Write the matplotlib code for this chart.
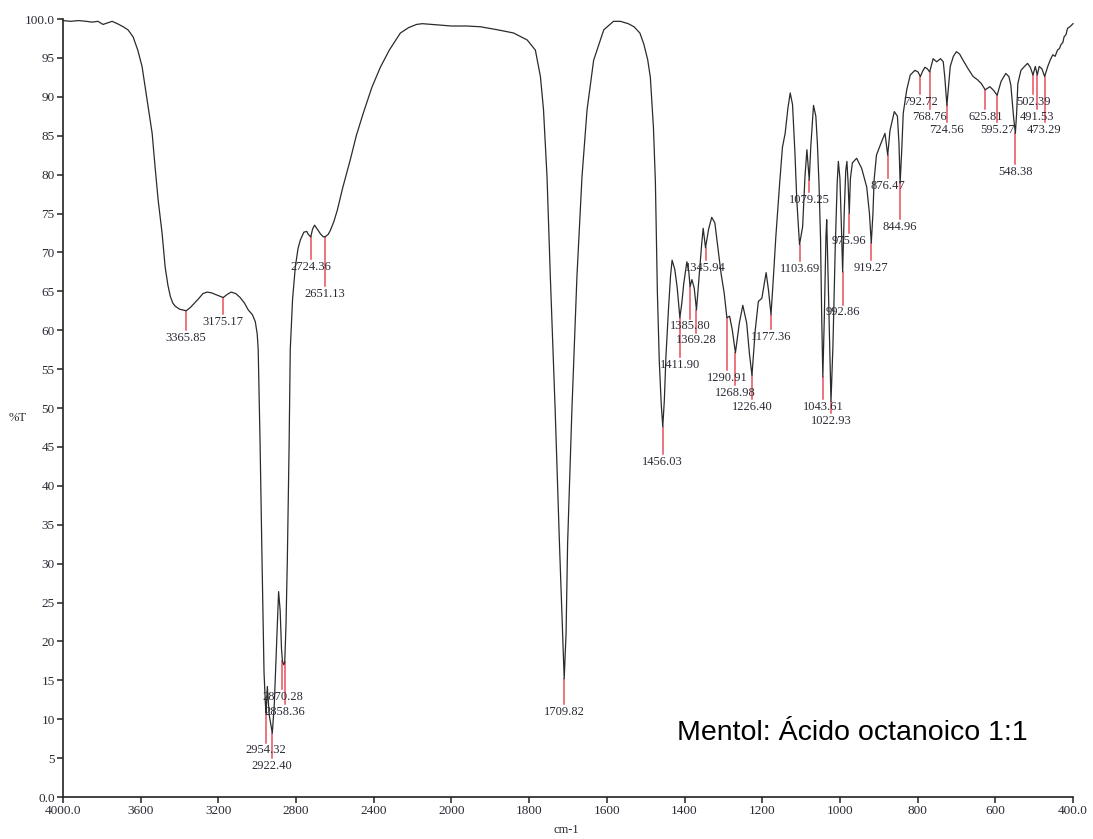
"""IR spectrum: Mentol / Acido octanoico 1:1 (recreated)."""
import matplotlib
matplotlib.use("Agg")
import matplotlib.pyplot as plt
import numpy as np

# spectrum (wavenumber cm-1, %T)
wavenumber = [
    4000, 3960, 3920, 3880, 3850, 3820, 3794, 3770, 3747, 3720, 3690, 3665, 3639, 3615, 3593,
    3567, 3541, 3526, 3510, 3490, 3474, 3460, 3448, 3435, 3423, 3400, 3366, 3345, 3330, 3300,
    3280, 3258, 3235, 3216, 3195, 3175, 3155, 3134, 3110, 3088, 3066, 3046, 3025, 3010, 3000,
    2995, 2985, 2975, 2965, 2958, 2954.3, 2948, 2938, 2922.4, 2912, 2900, 2890, 2882, 2875,
    2870.3, 2864, 2858.4, 2852, 2845, 2836, 2830, 2818, 2804, 2790, 2778, 2760, 2745, 2737,
    2724.4, 2715, 2705, 2691, 2675, 2660, 2651, 2635, 2624, 2605, 2588, 2560, 2521, 2490, 2454,
    2410, 2366, 2320, 2263, 2220, 2180, 2150, 2100, 2050, 2000, 1960, 1925, 1880, 1840, 1805,
    1784, 1771, 1763, 1754, 1745.5, 1733, 1722, 1713, 1709.8, 1705, 1701, 1690, 1677, 1664,
    1651, 1634, 1608, 1583, 1565, 1545, 1530, 1515, 1505, 1495, 1488, 1480, 1475, 1470, 1465,
    1460, 1456, 1452, 1448, 1441, 1436, 1432, 1425, 1419, 1412, 1407, 1402, 1394, 1389, 1385.8,
    1381, 1375, 1369.3, 1362, 1356, 1352, 1346, 1338, 1330, 1322, 1315, 1306, 1298, 1291, 1284,
    1277, 1269, 1259, 1250, 1240, 1233, 1226.4, 1218, 1210, 1201, 1190, 1184, 1177.4, 1171,
    1165, 1155, 1148, 1141, 1134, 1128, 1122, 1116, 1111, 1104, 1096, 1090, 1085, 1079, 1075,
    1068, 1062, 1058, 1054, 1050, 1047, 1044, 1040, 1036, 1034, 1030, 1026, 1023, 1018, 1012,
    1007, 1004, 1000, 996, 993, 989, 985, 982, 979, 976, 973, 968, 957, 944, 931, 924, 919.3,
    915, 912, 906, 893, 884, 877, 871, 860, 852, 848, 845, 841, 837, 828, 819, 807, 799, 793,
    787, 781, 775, 769, 760, 751, 741, 734, 730, 724.6, 720, 716, 708, 700, 692, 683, 670, 657,
    646, 636, 626, 614, 604, 595.3, 585, 573, 565, 560, 553, 548.4, 545, 542, 534, 525, 517,
    510, 503, 497, 492, 487, 480, 473, 465, 458, 452, 446, 440, 435, 431, 426, 423, 418, 414,
    408, 400,
]
transmittance = [
    99.8, 99.7, 99.8, 99.7, 99.6, 99.7, 99.3, 99.5, 99.7, 99.4, 99.0, 98.6, 97.7, 96.0, 93.9,
    89.6, 85.3, 81.0, 76.7, 72.5, 68.1, 65.8, 64.4, 63.5, 63.1, 62.7, 62.5, 62.9, 63.3, 64.1,
    64.7, 64.9, 64.8, 64.6, 64.4, 64.2, 64.6, 64.9, 64.7, 64.2, 63.5, 62.6, 62.0, 61.1, 59.5,
    57.5, 45.0, 30.0, 16.0, 12.0, 10.8, 14.2, 10.5, 8.2, 12.0, 20.0, 26.4, 24.0, 19.0,
    17.5, 17.0, 17.3, 22.0, 30.5, 45.0, 57.5, 64.0, 68.1, 70.5, 71.6, 72.6, 72.7, 72.3,
    72.0, 73.0, 73.5, 73.0, 72.4, 72.0, 72.0, 72.3, 72.8, 74.0, 75.4, 78.3, 81.9, 85.0, 87.9,
    91.2, 93.8, 96.0, 98.2, 98.9, 99.3, 99.4, 99.3, 99.2, 99.1, 99.1, 99.0, 98.6, 98.2, 97.3,
    96.0, 92.6, 88.3, 79.7, 66.9, 49.7, 32.6, 19.5, 15.2, 21.0, 32.6, 49.7, 66.9, 79.7,
    88.3, 94.7, 98.6, 99.7, 99.7, 99.4, 99.0, 98.2, 96.8, 94.8, 92.5, 86.0, 79.0, 65.0, 56.0,
    50.5, 47.6, 51.0, 56.5, 63.0, 67.0, 69.0, 67.8, 65.5, 61.6, 63.5, 66.0, 68.8, 67.5, 65.6,
    66.5, 65.4, 62.6, 67.3, 71.0, 73.1, 70.6, 73.0, 74.5, 73.8, 71.0, 67.3, 64.8, 61.6, 61.8,
    60.0, 57.1, 60.9, 63.2, 60.9, 57.0, 54.2, 60.0, 63.7, 64.1, 67.4, 65.2, 62.0, 67.0,
    72.0, 79.0, 83.5, 85.3, 88.5, 90.5, 89.0, 83.0, 76.7, 71.0, 73.3, 79.7, 83.2, 79.3, 83.6,
    88.9, 87.5, 84.0, 79.0, 72.0, 62.0, 54.0, 62.0, 72.0, 74.2, 66.0, 57.0, 50.8, 58.0, 70.7,
    79.0, 81.7, 79.5, 73.0, 67.5, 75.0, 80.5, 81.7, 79.0, 75.0, 79.5, 81.5, 82.1, 80.8, 78.4, 75.0, 71.2,
    75.0, 79.3, 82.5, 84.2, 85.3, 82.5, 85.7, 88.1, 87.5, 84.0, 78.9, 83.0, 87.9, 90.9, 92.8, 93.4, 93.2, 92.6,
    93.3, 93.8, 93.6, 93.2, 94.9, 94.5, 94.9, 94.5, 92.5, 88.9, 91.5, 93.9, 95.2, 95.8, 95.5, 94.7, 93.6, 92.6,
    92.2, 91.7, 90.9, 91.3, 90.8, 90.2, 92.0, 93.0, 92.6, 91.5, 87.4, 85.3, 88.0, 91.7, 93.4, 93.9, 94.3,
    93.8, 92.8, 93.9, 92.8, 93.9, 93.6, 92.6, 93.9, 94.8, 95.4, 95.2, 96.0, 96.2, 96.7, 97.0, 97.7, 98.0, 98.8,
    99.0, 99.4,
]

# labelled peaks: position, %T at the peak, %T where the label sits
peak_pos = [3365.85, 3175.17, 2724.36, 2651.13, 2954.32, 2922.40, 2870.28, 2858.36, 1709.82,
            1456.03, 1411.90, 1385.80, 1369.28, 1345.94, 1290.91, 1268.98, 1226.40, 1177.36,
            1103.69, 1079.25, 1043.61, 1022.93, 992.86, 975.96, 919.27, 876.47, 844.96,
            792.72, 768.76, 724.56, 625.81, 595.27, 548.38, 502.39, 491.53, 473.29]
peak_t = [62.5, 64.2, 72.0, 72.0, 10.8, 8.2, 17.5, 17.3, 15.2,
          47.6, 61.6, 65.6, 62.6, 70.6, 61.6, 57.1, 54.2, 62.0,
          71.0, 79.3, 54.0, 50.8, 67.5, 75.0, 71.2, 82.5, 78.9,
          92.6, 93.2, 88.9, 90.9, 90.2, 85.3, 92.8, 92.8, 92.6]
label_t = [59.0, 61.05, 68.1, 64.65, 6.0, 4.0, 12.85, 10.9, 10.9,
           43.1, 55.5, 60.5, 58.7, 68.0, 53.9, 51.9, 50.1, 59.1,
           67.9, 76.7, 50.1, 48.3, 62.3, 71.5, 68.0, 78.5, 73.3,
           89.3, 87.4, 85.7, 87.4, 85.7, 80.3, 89.3, 87.4, 85.7]

x_ticks = [4000, 3600, 3200, 2800, 2400, 2000, 1800, 1600, 1400, 1200, 1000, 800, 600, 400]
x_tick_labels = ["4000.0", "3600", "3200", "2800", "2400", "2000", "1800", "1600", "1400",
                 "1200", "1000", "800", "600", "400.0"]
y_ticks = list(range(0, 101, 5))
y_tick_labels = ["0.0"] + [str(v) for v in y_ticks[1:-1]] + ["100.0"]


def fwd(w):
    # region below 2000 cm-1 is drawn at twice the scale
    w = np.asarray(w, dtype=float)
    return np.where(w >= 2000, w, 2 * w - 2000)


def inv(u):
    u = np.asarray(u, dtype=float)
    return np.where(u >= 2000, u, (u + 2000) / 2)


serif = "Liberation Serif"
txt = "#2a2a35"
red = "#e8505b"

fig = plt.figure(figsize=(10.93, 8.39), dpi=100)
ax = fig.add_axes([63 / 1093, 1 - 797 / 839, 1010 / 1093, 778 / 839])
ax.set_xscale("function", functions=(fwd, inv))
ax.set_xlim(4000, 400)
ax.set_ylim(0, 100)

ax.plot(wavenumber, transmittance, color="#2b2b2b", lw=0.9, clip_on=False, zorder=3)

for pos, pt, lt in zip(peak_pos, peak_t, label_t):
    ax.plot([pos, pos], [pt, lt + 1.0], color=red, lw=1.1, zorder=2)
    ax.text(pos, lt, f"{pos:.2f}", ha="center", va="center", fontsize=9,
            family=serif, color=txt, zorder=4)

for side in ("top", "right"):
    ax.spines[side].set_visible(False)
for side in ("left", "bottom"):
    ax.spines[side].set_linewidth(1.2)
    ax.spines[side].set_color("#222222")

ax.set_xticks(x_ticks)
ax.set_xticklabels(x_tick_labels)
ax.set_yticks(y_ticks)
ax.set_yticklabels(y_tick_labels)
ax.tick_params(axis="both", direction="out", length=4, width=1.1, color="#222222",
               labelsize=9.5, labelcolor=txt, pad=2)
for lab in ax.get_xticklabels() + ax.get_yticklabels():
    lab.set_family(serif)

fig.text(18 / 1093, 1 - 418 / 839, "%T", ha="center", va="center", fontsize=9,
         family=serif, color=txt)
fig.text(566 / 1093, 1 - 830 / 839, "cm-1", ha="center", va="center", fontsize=9,
         family=serif, color=txt)
fig.text(677 / 1093, 1 - 733 / 839, "Mentol: Ácido octanoico 1:1", ha="left", va="center",
         fontsize=20.5, family="Liberation Sans", color="black")

fig.savefig("out.png", dpi=100)
